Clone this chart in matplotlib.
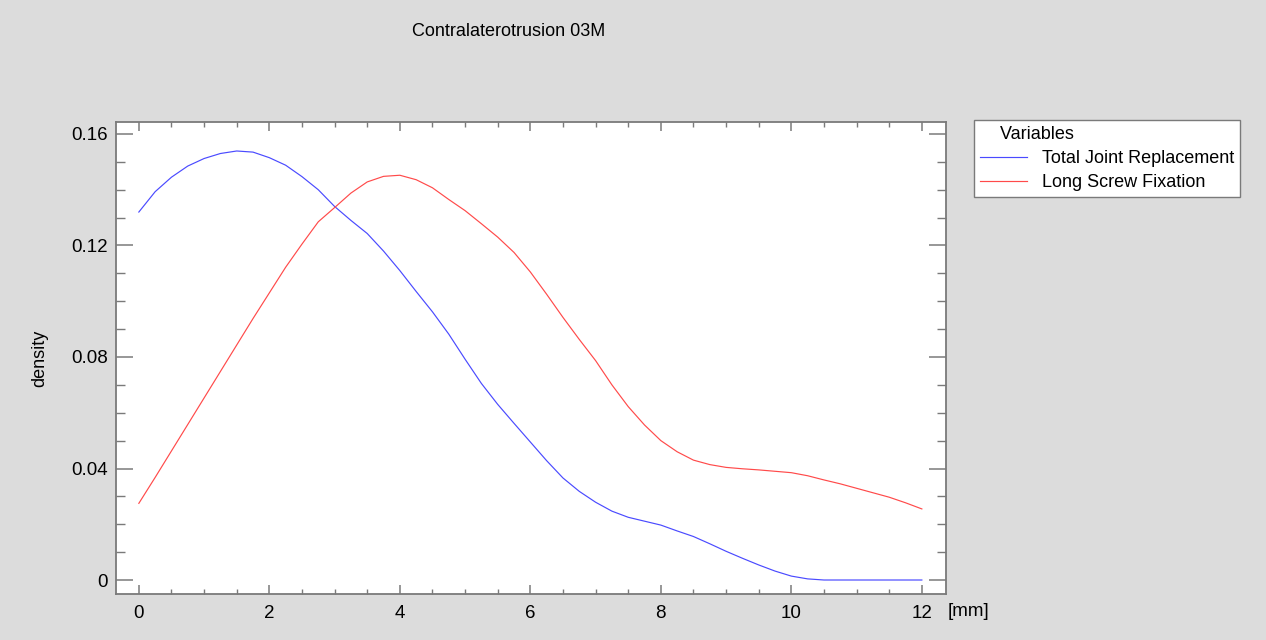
import numpy as np
import matplotlib
matplotlib.use("Agg")
import matplotlib.pyplot as plt
from matplotlib.ticker import MultipleLocator

plt.rcParams['font.family'] = ['Liberation Sans', 'DejaVu Sans']

# values, every 0.25 mm
x_mm = [i * 0.25 for i in range(49)]
total_joint = [0.1320, 0.1393, 0.1445, 0.1485, 0.1512, 0.1530, 0.1539, 0.1535,
               0.1515, 0.1488, 0.1447, 0.1400, 0.1340, 0.1290, 0.1243, 0.1180,
               0.1110, 0.1035, 0.0962, 0.0882, 0.0792, 0.0705, 0.0630, 0.0562,
               0.0495, 0.0428, 0.0366, 0.0318, 0.0279, 0.0247, 0.0225, 0.0211,
               0.0197, 0.0176, 0.0156, 0.0130, 0.0103, 0.0078, 0.0054, 0.0032,
               0.0014, 0.0004, 0.0, 0.0, 0.0, 0.0, 0.0, 0.0, 0.0]
long_screw = [0.0275, 0.0368, 0.0463, 0.0558, 0.0653, 0.0748, 0.0843, 0.0938,
              0.1030, 0.1122, 0.1205, 0.1285, 0.1336, 0.1388, 0.1428, 0.1448,
              0.1452, 0.1436, 0.1407, 0.1365, 0.1325, 0.1278, 0.1230, 0.1175,
              0.1105, 0.1025, 0.0942, 0.0863, 0.0787, 0.0700, 0.0622, 0.0556,
              0.0500, 0.0460, 0.0430, 0.0414, 0.0404, 0.0399, 0.0395, 0.0390,
              0.0385, 0.0374, 0.0359, 0.0345, 0.0329, 0.0313, 0.0297, 0.0277,
              0.0255]

title = "Contralaterotrusion 03M"
labels = ["Total Joint Replacement", "Long Screw Fixation"]
colors = ["#4a4aff", "#ff4a4a"]

W, H = 1266, 640
fig = plt.figure(figsize=(W / 100, H / 100), dpi=100, facecolor="#dcdcdc")
ax = fig.add_axes([116 / W, 1 - 594 / H, (946 - 116) / W, (594 - 122) / H])
ax.set_facecolor("white")

ax.plot(x_mm, total_joint, color=colors[0], lw=0.85, label=labels[0])
ax.plot(x_mm, long_screw, color=colors[1], lw=0.85, label=labels[1])

ax.set_xlim(-0.35, 12.37)
ax.xaxis.set_major_locator(MultipleLocator(2))
ax.xaxis.set_minor_locator(MultipleLocator(0.5))
yt = [0, 0.04, 0.08, 0.12, 0.16]
ax.set_yticks(yt)
ax.set_yticklabels(["0" if v == 0 else f"{v:.2f}" for v in yt])
ax.yaxis.set_minor_locator(MultipleLocator(0.01))
ax.set_ylim(-0.00502, 0.1643)

for s in ax.spines.values():
    s.set_color("#7a7a7a")
    s.set_linewidth(1.3)

ax.tick_params(axis="both", which="both", direction="in", colors="#7a7a7a",
               labelcolor="black", labelsize=13.5, top=True, right=True)
ax.tick_params(axis="x", which="major", length=6.5, width=1.1, pad=8)
ax.tick_params(axis="x", which="minor", length=3.5, width=1.0)
ax.tick_params(axis="y", which="major", length=12, width=1.1, pad=6)
ax.tick_params(axis="y", which="minor", length=6.5, width=1.0)

ax.set_ylabel("density", fontsize=13, labelpad=16)
fig.text(968 / W, 1 - 611 / H, "[mm]", fontsize=13.5, ha="center", va="center")
fig.text(509 / W, 1 - 32 / H, title, fontsize=13, ha="center", va="center")

leg = fig.legend(loc="upper left", bbox_to_anchor=(974 / W, 1 - 120 / H),
                 title="    Variables", alignment="left", fontsize=13,
                 title_fontsize=13, frameon=True, fancybox=False,
                 edgecolor="#7a7a7a", framealpha=1, borderaxespad=0,
                 handlelength=2.6, handletextpad=0.8, borderpad=0.35,
                 labelspacing=0.38)
leg.get_frame().set_linewidth(1.0)

fig.savefig("out.png", dpi=100, facecolor=fig.get_facecolor())
